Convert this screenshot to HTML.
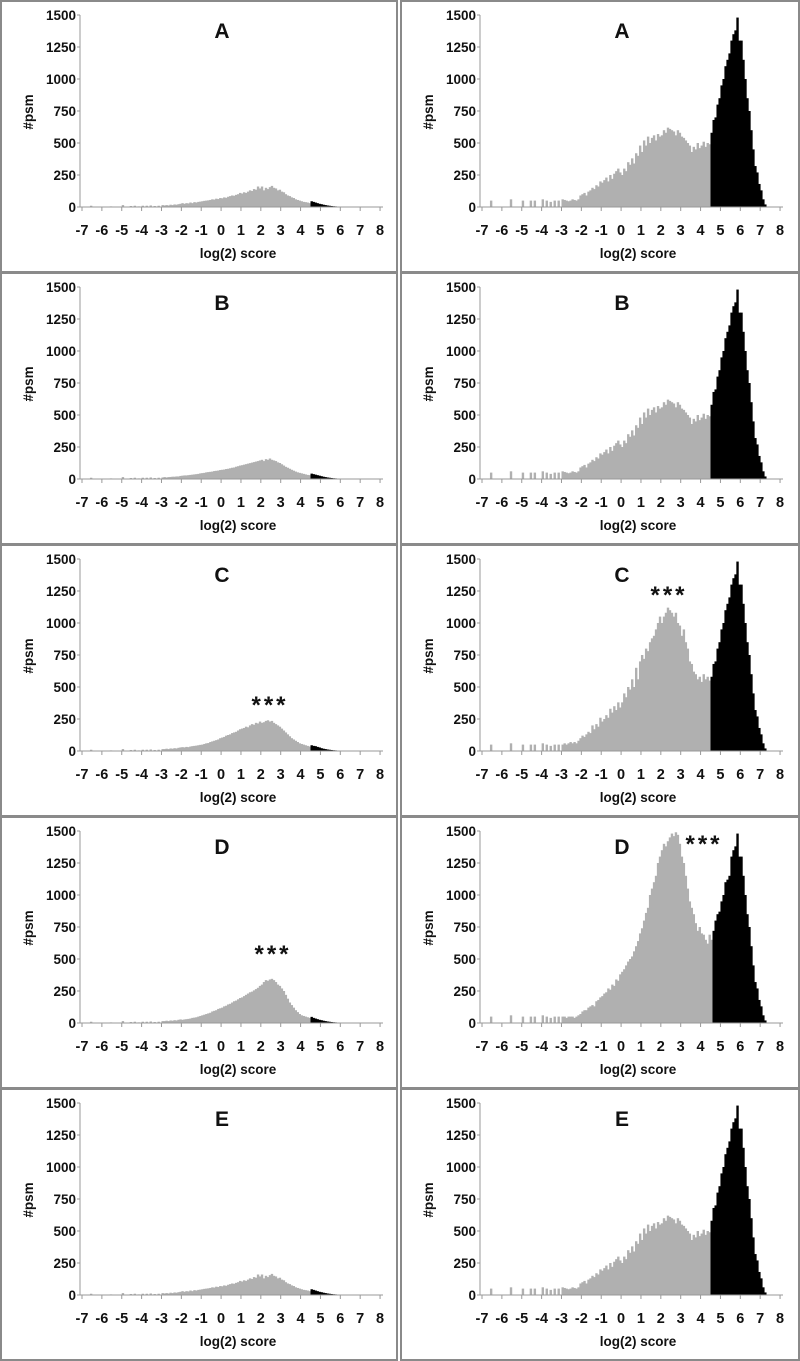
<!DOCTYPE html>
<html><head><meta charset="utf-8"><style>
html,body{margin:0;padding:0;background:#fff;}
svg{display:block;font-family:"Liberation Sans",sans-serif;}
text{font-weight:bold;fill:#111;}
</style></head><body>
<svg id="fig" width="800" height="1361" viewBox="0 0 800 1361" xmlns="http://www.w3.org/2000/svg"></svg>
<script>
// bins start at -7.0, width 0.1, 150 bins
const binStart = -7.0;
const binWidth = 0.1;
const xTicks = [-7,-6,-5,-4,-3,-2,-1,0,1,2,3,4,5,6,7,8];
const yTicks = [0,250,500,750,1000,1250,1500];
const panelLabels = ["A","B","C","D","E"];
const leftCutoffs = [4.5,4.5,4.5,4.5,4.5];
const rightCutoffs = [4.5,4.5,4.5,4.6,4.5];

const sparseR = [0,0,0,0,50,0,0,0,0,0, 0,0,0,0,60,0,0,0,0,0, 50,0,0,0,50,0,50,0,0,0, 60,0,50,0,40,0,50,0,50,0];
const blackR = [580,680,700,800,850, 950,1000,1100,1150,1200,1300,1350,1380,1480,1300, 1300,1150,1000,850,750,600,450,320,270,180, 130,60,20,0,0,0,0,0,0,0];

const rightA = sparseR.concat([
60,55,50,45,50,60,55,50,60,90,
100,110,90,120,130,150,140,170,160,200,
190,210,230,200,250,220,260,280,300,270,
250,300,280,350,330,380,340,420,400,480,
430,520,480,550,500,540,560,520,570,550,
560,600,580,620,610,600,590,560,600,580,
550,540,520,500,480,430,470,450,500,460,
480,510,470,500,490], blackR);
const rightB = rightA.slice();
const rightE = rightA.slice();
const rightC = sparseR.concat([
50,60,50,60,70,60,70,60,80,100,
120,110,130,150,140,200,170,210,190,260,
230,250,280,260,330,300,350,320,380,340,
380,450,420,500,480,560,500,650,560,700,
750,720,800,780,850,880,900,950,1000,1050,
1000,1050,1080,1120,1100,1080,1050,1080,1000,980,
900,950,850,800,700,680,620,600,560,580,
540,600,560,580,550], blackR);
const rightD = sparseR.concat([
50,50,40,50,50,50,40,50,60,70,
90,100,100,120,130,140,130,170,180,200,
210,230,240,270,260,300,290,340,330,380,
400,420,450,480,500,520,560,600,640,700,
740,800,860,900,1000,1050,1100,1150,1250,1300,
1350,1400,1380,1420,1450,1480,1460,1490,1470,1400,
1300,1250,1150,1050,950,900,850,780,720,750,
700,690,650,620,690,650,720,800,850,870,
950,1000,1100,1120,1150,1300,1350,1380,1480,1300,
1300,1150,1000,850,750,600,450,320,270,180,
130,60,20,0,0,0,0,0,0,0]);

const sparseL = [0,0,0,0,10,0,0,0,0,0, 0,0,0,0,5,0,0,0,0,0, 15,0,0,0,8,0,10,0,5,0, 10,0,10,0,12,0,8,0,10,0];
const tailL = [22,18,15,12,10,8,6,5,4,3, 2,0,0,0,0,0,0,0,0,0, 0,0,0,0,0,0,0,0,0,0];
const leftA = sparseL.concat([
15,12,15,12,18,15,20,18,22,25,
30,25,30,28,35,30,38,35,40,42,
45,48,50,52,55,60,58,65,62,70,
68,75,72,80,85,90,88,95,100,110,
105,115,110,120,130,125,140,135,160,145,
160,130,150,140,155,165,150,145,130,135,
120,115,100,90,85,75,70,60,55,50,
45,40,38,35,30,45,40,35,30,25], tailL);
const leftB = sparseL.concat([
12,15,12,15,16,18,18,20,20,24,
26,28,28,30,32,34,36,38,40,44,
46,48,52,54,56,58,62,64,66,70,
72,74,78,80,84,88,90,96,100,105,
108,112,116,120,124,128,132,136,140,145,
150,140,155,150,160,150,145,140,130,125,
115,105,95,88,80,72,65,58,52,48,
44,40,36,32,30,42,38,34,30,26], tailL);
const leftE = leftA.slice();
const leftC = sparseL.concat([
15,15,18,15,20,18,22,20,25,28,
30,28,32,30,35,38,40,42,45,48,
50,55,60,62,70,75,80,85,90,100,
105,110,120,125,130,140,145,150,160,170,
175,180,190,185,200,210,205,220,215,230,
220,225,235,240,230,235,220,210,200,190,
175,160,145,130,115,100,90,80,70,60,
55,50,45,40,35,45,40,38,32,28], tailL);
const leftD = sparseL.concat([
15,15,18,15,20,18,22,20,25,28,
25,28,30,32,35,40,42,45,50,55,
60,65,70,75,80,90,95,100,110,115,
120,130,135,145,150,160,170,175,185,195,
200,210,220,230,240,245,255,265,275,290,
300,320,335,330,340,345,335,320,300,290,
270,250,220,190,160,140,120,100,85,70,
60,55,50,45,40,48,40,35,30,25], tailL);

const leftSeries = [leftA,leftB,leftC,leftD,leftE];
const rightSeries = [rightA,rightB,rightC,rightD,rightE];
const stars = [ {col:0,row:2,x:270,y:161}, {col:1,row:2,x:269,y:51}, {col:0,row:3,x:273,y:138}, {col:1,row:3,x:304,y:28} ];

const NS = "http://www.w3.org/2000/svg";
const svg = document.getElementById('fig');
function mk(tag, attrs, parent){
  const e = document.createElementNS(NS, tag);
  for (const k in attrs) e.setAttribute(k, attrs[k]);
  (parent||svg).appendChild(e);
  return e;
}
const ROWH = 272;
function xScale(ox, v){ return ox + 82 + (v + 7) * 19.87; }
function yScale(oy, v){ return oy + 207 - v * 192 / 1500; }

function drawPanel(col, row, data, cutoff){
  const ox = col === 0 ? 0 : 400;
  const oy = row * ROWH;
  const g = mk('g', {});
  
  
  const border = mk('rect', {x: ox + 1, y: oy + 1, width: (col===0?396:398), height: ROWH - 1, fill:'none', stroke:'#8a8a8a', 'stroke-width':2}, g);
  
  
  for (let i = 0; i < data.length; i++){
    const v = data[i];
    if (v <= 0) continue;
    const b0 = binStart + i * binWidth;
    const x0 = xScale(ox, b0), x1 = xScale(ox, b0 + binWidth);
    const y = yScale(oy, v);
    const isBlack = b0 >= cutoff - 1e-9;
    const r = mk('rect', {x: x0.toFixed(2), y: y.toFixed(2), width: (x1 - x0 + 0.4).toFixed(2), height: (yScale(oy,0) - y).toFixed(2), fill: isBlack ? '#000' : '#b0b0b0'}, g);
    
    
  }
  const ya = mk('line', {x1: ox+80, y1: yScale(oy,1500), x2: ox+80, y2: yScale(oy,0), stroke:'#999', 'stroke-width':1}, g);
  
  
  const xa = mk('line', {x1: ox+80, y1: yScale(oy,0), x2: ox+383, y2: yScale(oy,0), stroke:'#999', 'stroke-width':1}, g);
  
  
  for (const t of yTicks){
    const y = yScale(oy, t);
    const tk = mk('line', {x1: ox+77, y1: y, x2: ox+80, y2: y, stroke:'#999'}, g);
    
    
    const tl = mk('text', {x: ox+76, y: y + 5, 'text-anchor':'end', 'font-size':13.5}, g);
    tl.textContent = t;
    
    
  }
  for (const t of xTicks){
    const x = xScale(ox, t);
    const tk = mk('line', {x1: x, y1: yScale(oy,0), x2: x, y2: yScale(oy,0)+4, stroke:'#999'}, g);
    
    
    const tl = mk('text', {x: x, y: oy + 235, 'text-anchor':'middle', 'font-size':14.5}, g);
    tl.textContent = t;
    
    
  }
  const yt = mk('text', {x: 0, y: 0, 'text-anchor':'middle', 'font-size':13.5, transform: 'translate(' + (ox+33) + ',' + (oy+112) + ') rotate(-90)'}, g);
  yt.textContent = '#psm';
  
  
  const xt = mk('text', {x: ox+238, y: oy+258, 'text-anchor':'middle', 'font-size':13.5}, g);
  xt.textContent = 'log(2) score';
  
  
  const tt = mk('text', {x: ox+222, y: oy+38, 'text-anchor':'middle', 'font-size':21}, g);
  tt.textContent = panelLabels[row];
  
  
}
for (let r = 0; r < 5; r++){
  drawPanel(0, r, leftSeries[r], leftCutoffs[r]);
  drawPanel(1, r, rightSeries[r], rightCutoffs[r]);
}
for (const s of stars){
  const ox = s.col === 0 ? 0 : 400;
  const st = mk('text', {x: ox + s.x, y: 544 + (s.row===2?0:272) + s.y + 8, 'text-anchor':'middle', 'font-size':24, 'letter-spacing':'3'});
  st.textContent = '***';
  
  
}
</script>
</body></html>
